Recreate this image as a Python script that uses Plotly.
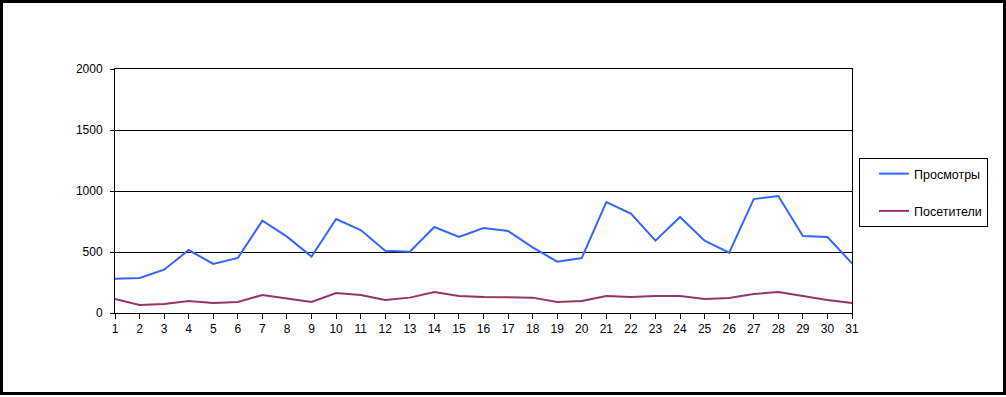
import plotly.graph_objects as go

days = list(range(1, 32))
views = [280, 287, 355, 516, 402, 451, 757, 626, 462, 770,
         680, 511, 503, 705, 623, 697, 672, 538, 421, 451,
         910, 814, 593, 787, 593, 494, 934, 959, 631, 623, 407]
visitors = [115, 66, 74, 98, 82, 90, 148, 117, 90, 164,
            148, 107, 126, 172, 139, 131, 131, 126, 90, 98,
            139, 131, 139, 139, 115, 123, 156, 172, 139, 107, 82]
y_ticks = [0, 500, 1000, 1500, 2000]

W, H = 1006, 397
L, R, T, B = 115, 852, 69, 313
pw, ph = R - L, B - T

def px(x):
    return (x - L) / pw

def py(y):
    return (B - y) / ph

fig = go.Figure()
fig.add_trace(go.Scatter(x=days, y=views, mode="lines", name="Просмотры",
                         line=dict(color="#3366FF", width=2), legendgroup="a"))
fig.add_trace(go.Scatter(x=days, y=visitors, mode="lines", name="Посетители",
                         line=dict(color="#993366", width=2), legendgroup="b"))

font = dict(family="Liberation Sans, Arial, sans-serif", size=12, color="black")
lfont = dict(family="Liberation Sans, Arial, sans-serif", size=12.5, color="black")

fig.update_layout(
    width=W, height=H,
    margin=dict(l=L, r=W - R, t=T, b=H - B, pad=0),
    paper_bgcolor="white", plot_bgcolor="white",
    font=font,
    showlegend=True,
    legend=dict(x=px(859), y=py(158), xanchor="left", yanchor="top",
                bordercolor="black", borderwidth=1, bgcolor="white",
                tracegroupgap=18, font=lfont, entrywidth=122,
                itemwidth=30, indentation=14),
    xaxis=dict(range=[1, 31], tickmode="array", tickvals=days,
               ticks="outside", ticklen=5, tickcolor="black",
               showline=True, linecolor="black", linewidth=1, mirror=True,
               showgrid=False, zeroline=False, tickfont=font),
    yaxis=dict(range=[0, 2000], tickmode="array", tickvals=y_ticks,
               ticks="outside", ticklen=4, tickcolor="black",
               showline=True, linecolor="black", linewidth=1, mirror=True,
               showgrid=True, gridcolor="black", gridwidth=1,
               zeroline=False, tickfont=font, ticklabelstandoff=5),
    shapes=[dict(type="rect", xref="paper", yref="paper",
                 x0=px(1.5), x1=px(1004.5), y0=py(393.5), y1=py(1.5),
                 line=dict(color="black", width=3), fillcolor="rgba(0,0,0,0)",
                 layer="above")],
)

fig.write_html("out.html", config={"displayModeBar": False},
               post_script="document.body.style.margin='0';document.body.style.overflow='hidden';")
